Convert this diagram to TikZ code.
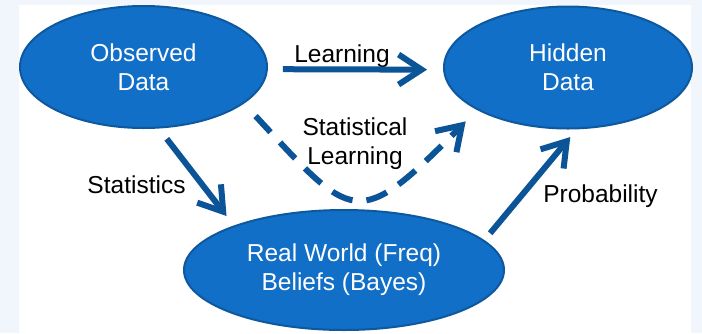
\documentclass[tikz,border=0pt]{standalone}
\usepackage{fontspec}
\setmainfont{Liberation Sans}
\usetikzlibrary{shapes.geometric,arrows.meta}

\definecolor{bgtint}{RGB}{240,246,252}
\definecolor{blobfill}{RGB}{17,111,199}
\definecolor{blobedge}{RGB}{14,88,158}
\definecolor{arrowblue}{RGB}{12,84,152}

\tikzset{
  blob/.style={ellipse, draw=blobedge, line width=2pt, fill=blobfill,
    text=white, align=center, inner sep=0pt,
    font=\fontsize{24.5}{29}\selectfont},
  lbl/.style={text=black, align=center, inner sep=0pt,
    font=\fontsize{24.5}{29}\selectfont},
  flow/.style={draw=arrowblue, line width=6pt,
    -{Straight Barb[length=23pt,width=30pt]}},
}

\begin{document}
\begin{tikzpicture}[x=1pt,y=-1pt]
  % page and white sheet
  \fill[bgtint] (0,0) rectangle (702,333);
  \fill[white] (19,5) rectangle (691,333);
  \useasboundingbox (0,0) rectangle (702,333);

  % the three ellipses
  \node[blob, minimum width=247pt, minimum height=122pt] (obs) at (143.5,67) {Observed\\Data};
  \node[blob, minimum width=248pt, minimum height=122pt] (hid) at (568,67.5) {Hidden\\Data};
  \node[blob, minimum width=320pt, minimum height=120pt] (real) at (344,270) {Real World (Freq)\\Beliefs (Bayes)};

  % labels
  \node[lbl, anchor=base] (learnlbl) at (342,62) {Learning};
  \node[lbl] (statlearnlbl) at (355,144) {Statistical\\Learning};
  \node[lbl, anchor=base] (statlbl) at (136.5,193) {Statistics};
  \node[lbl, anchor=base] (problbl) at (600.5,202) {Probability};

  % arrows
  \path[flow, shorten <=15pt, shorten >=16pt] (obs.-1.5) -- (hid.181);
  \path[flow, shorten <=13pt, shorten >=12pt] (obs.-76) -- (real.158.7);
  \path[flow, shorten <=9pt, shorten >=10pt] (real.12.6) -- (hid.-82.2);
  \path[flow, dash pattern=on 22pt off 14pt, shorten <=17pt, shorten >=16pt]
    (obs.-20.5) .. controls (353,221) and (356,233) .. (hid.205.7);
\end{tikzpicture}
\end{document}
